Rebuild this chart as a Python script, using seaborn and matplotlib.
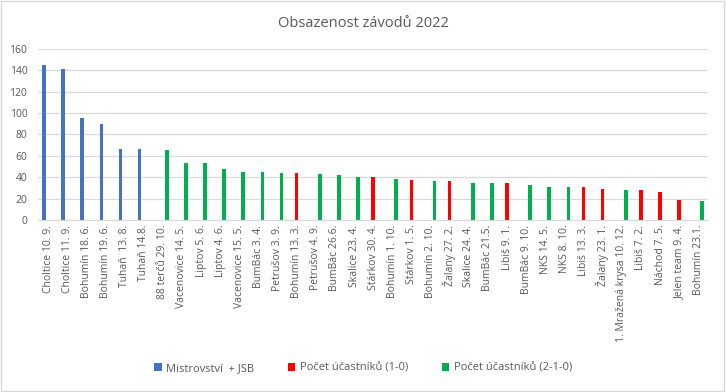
import pandas as pd
import matplotlib.pyplot as plt
import seaborn as sns
from matplotlib.patches import Rectangle

# Data
zavody = ['Choltice 10. 9.', 'Choltice 11. 9.', 'Bohumín 18. 6.', 'Bohumín 19. 6.',
          'Tuhaň  13. 8.', 'Tuhaň 14.8.', '88 terčů 29. 10.', 'Vacenovice 14. 5.',
          'Liptov 5. 6.', 'Liptov 4. 6.', 'Vacenovice 15. 5.', 'BumBác 3. 4.',
          'Petrušov 3. 9.', 'Bohumín 13. 3.', 'Petrušov 4. 9.', 'BumBác 26.6.',
          'Skalice 23. 4.', 'Stárkov 30. 4.', 'Bohumín 1. 10.', 'Stárkov 1. 5.',
          'Bohumín 2. 10.', 'Žalany 27. 2.', 'Skalice 24. 4.', 'BumBác 21.5.',
          'Libiš 9. 1.', 'BumBác 9. 10.', 'NKS 14. 5.', 'NKS 8. 10.', 'Libiš 13. 3.',
          'Žalany 23. 1.', '1. Mražená krysa 10. 12.', 'Libiš 7. 2.', 'Náchod 7. 5.',
          'Jelen team 9. 4.', 'Bohumín 23.1.']
pocty = [145, 141, 95, 90, 66, 66, 65, 53, 53, 48, 45, 45, 44, 44, 43, 42,
         40, 40, 38, 37, 36, 36, 35, 35, 35, 33, 31, 31, 31, 29, 28, 28, 26, 19, 18]

s_mistr = 'Mistrovství  + JSB'
s_10 = 'Počet účastníků (1-0)'
s_210 = 'Počet účastníků (2-1-0)'
serie = [s_mistr] * 6 + [s_210] * 7 + [s_10, s_210, s_210, s_210, s_10, s_210, s_10,
         s_210, s_10, s_210, s_210, s_10, s_210, s_210, s_210, s_10, s_10, s_210,
         s_10, s_10, s_10, s_210]
serie_poradi = [s_mistr, s_10, s_210]
barvy = ['#4472C4', '#FF0000', '#00B050']

df = pd.DataFrame({'zavod': zavody, 'pocet': pocty, 'serie': serie})

sns.set_style('white')
plt.rcParams['font.family'] = ['Open Sans', 'DejaVu Sans']

fig = plt.figure(figsize=(7.26, 3.92), dpi=100)
ax = fig.add_axes([0.053, 0.439, 0.922, 0.436])

sns.barplot(data=df, x='zavod', y='pocet', hue='serie', hue_order=serie_poradi,
            palette=barvy, order=zavody, width=0.63, gap=0.1, dodge=True, ax=ax,
            saturation=1, linewidth=0)

ax.set_ylim(0, 160)
ax.set_xlim(-0.5, len(zavody) - 0.5)
ax.set_yticks(range(0, 161, 20))
ax.yaxis.grid(True, color='#D9D9D9', linewidth=0.9)
ax.set_axisbelow(True)
for s in ['top', 'right', 'left']:
    ax.spines[s].set_visible(False)
ax.spines['bottom'].set_color('#D9D9D9')
ax.tick_params(axis='both', length=0, labelsize=7.5, colors='#595959')
ax.tick_params(axis='y', pad=8)
plt.setp(ax.get_xticklabels(), rotation=90)
ax.set_xlabel('')
ax.set_ylabel('')

fig.suptitle('Obsazenost závodů 2022', y=0.96, fontsize=10.5, color='#595959')

ax.get_legend().remove()
h, l = ax.get_legend_handles_labels()
fig.legend(h, l, loc='center', bbox_to_anchor=(0.5, 0.06), ncol=3, frameon=False,
           fontsize=8, handlelength=0.7, handleheight=0.7, handletextpad=0.4,
           columnspacing=3.0, labelcolor='#595959')

fig.patches.append(Rectangle((0.002, 0.003), 0.995, 0.994, transform=fig.transFigure,
                             fill=False, edgecolor='#D9D9D9', linewidth=1))

fig.savefig('out.png', dpi=100)
